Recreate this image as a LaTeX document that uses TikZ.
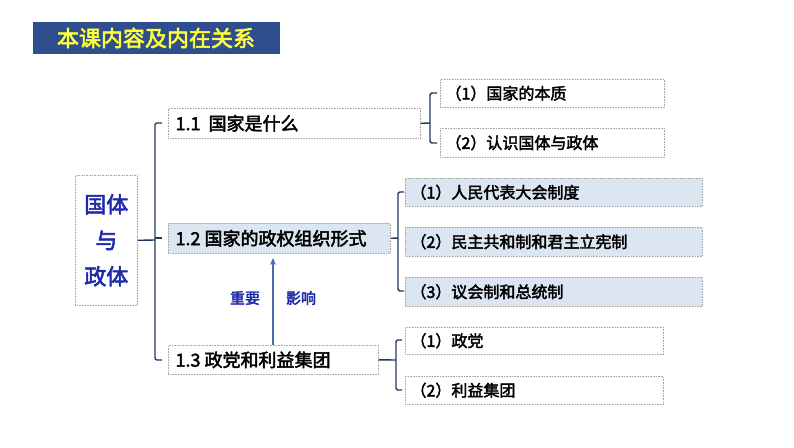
\documentclass[tikz,border=0pt]{standalone}
\usepackage{fontspec}
\usetikzlibrary{arrows.meta}
\setmainfont{Noto Sans CJK SC}[BoldFont={Noto Sans CJK SC},BoldFeatures={FakeBold=2.5}]
\begin{document}
\begin{tikzpicture}[x=1pt,y=-1pt,
  bx/.style={draw=gray!70,densely dotted,line width=0.6pt,inner sep=0pt,anchor=north west},
  fb/.style={bx,fill={rgb,255:red,220;green,230;blue,242}},
  br/.style={draw={rgb,255:red,35;green,55;blue,100},line width=1.4pt,rounded corners=2pt},
  tx/.style={font=\bfseries\fontsize{16}{16}\selectfont,anchor=west,xshift=2pt},
  tb/.style={font=\bfseries\fontsize{18}{18}\selectfont,anchor=west,xshift=4pt}]
\useasboundingbox (0,0) rectangle (794,447);
\fill[fill={rgb,255:red,46;green,78;blue,142}] (33,22) rectangle (280,54);
\node[text={rgb,255:red,255;green,255;blue,60},font=\bfseries\fontsize{22}{22}\selectfont] (title) at (156,38) {本课内容及内在关系};
\node[bx,minimum width=62pt,minimum height=130pt] (L) at (75,175) {};
\node[text={rgb,255:red,30;green,40;blue,170},font=\bfseries\fontsize{22}{36}\selectfont,align=center] at (L.center) {国体\\与\\政体};
\node[bx,minimum width=252pt,minimum height=30pt] (a) at (168,108) {};
\node[tb] at (a.west) {1.1\ \ 国家是什么};
\node[fb,minimum width=222pt,minimum height=30pt] (b) at (168,223) {};
\node[tb] at (b.west) {1.2 国家的政权组织形式};
\node[bx,minimum width=210pt,minimum height=29pt] (c) at (168,345) {};
\node[tb] at (c.west) {1.3 政党和利益集团};
\node[bx,minimum width=224pt,minimum height=28pt] (a1) at (440,79) {};
\node[tx] at (a1.west) {（1）国家的本质};
\node[bx,minimum width=224pt,minimum height=29pt] (a2) at (440,128) {};
\node[tx] at (a2.west) {（2）认识国体与政体};
\node[fb,minimum width=297pt,minimum height=28pt] (b1) at (405,178) {};
\node[tx] at (b1.west) {（1）人民代表大会制度};
\node[fb,minimum width=297pt,minimum height=29pt] (b2) at (405,227) {};
\node[tx] at (b2.west) {（2）民主共和制和君主立宪制};
\node[fb,minimum width=297pt,minimum height=29pt] (b3) at (405,277) {};
\node[tx] at (b3.west) {（3）议会制和总统制};
\node[bx,minimum width=258pt,minimum height=27pt] (c1) at (405,327) {};
\node[tx] at (c1.west) {（1）政党};
\node[bx,minimum width=258pt,minimum height=28pt] (c2) at (405,376) {};
\node[tx] at (c2.west) {（2）利益集团};
% brackets
\draw[br] (L.east) -- (155,240);
\draw[br] (162,123) -- (155,123) -- (155,360) -- (162,360);
\draw[br] (155,238) -- (162,238);
\draw[br] (a.east) -- (430,123);
\draw[br] (437,93) -- (430,93) -- (430,143) -- (437,143);
\draw[br] (b.east) -- (398,238);
\draw[br] (404,192) -- (398,192) -- (398,291) -- (404,291);
\draw[br] (c.east) -- (396,360);
\draw[br] (402,340) -- (396,340) -- (396,390) -- (402,390);
\draw[-{Stealth[length=7pt,width=6pt]},line width=1.4pt,draw={rgb,255:red,70;green,110;blue,175}] (273,345) -- (273,258);
\node[text={rgb,255:red,30;green,40;blue,170},font=\bfseries\fontsize{15}{15}\selectfont] at (245,298) {重要};
\node[text={rgb,255:red,30;green,40;blue,170},font=\bfseries\fontsize{15}{15}\selectfont] at (301,298) {影响};
\end{tikzpicture}
\end{document}
